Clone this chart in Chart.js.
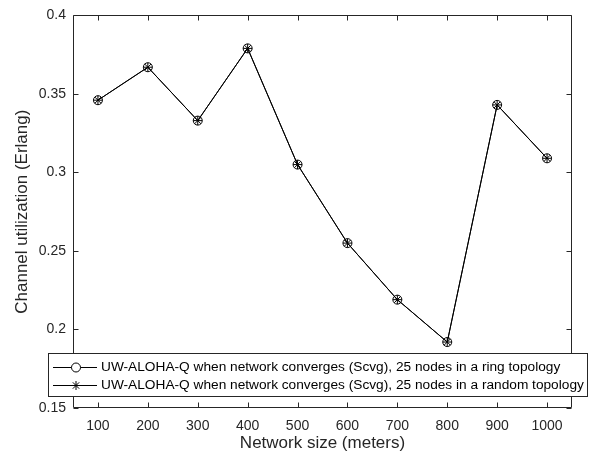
<!DOCTYPE html>
<html>
<head>
<meta charset="utf-8">
<script src="https://cdn.jsdelivr.net/npm/chart.js@4/dist/chart.umd.min.js"></script>
<style>
  html, body { margin: 0; padding: 0; background: #fff; }
  canvas { display: block; }
</style>
</head>
<body>
<canvas id="chart" width="596" height="456"></canvas>
<script>
// Network size (meters) on the x axis
const networkSizes = [100, 200, 300, 400, 500, 600, 700, 800, 900, 1000];
// Channel utilization (Erlang)
const ringUtil   = [0.346, 0.367, 0.333, 0.379, 0.305, 0.255, 0.219, 0.192, 0.343, 0.309];
const randomUtil = [0.346, 0.367, 0.333, 0.379, 0.305, 0.255, 0.219, 0.192, 0.343, 0.309];
const xTicks = [100, 200, 300, 400, 500, 600, 700, 800, 900, 1000];
const yTicks = [0.15, 0.2, 0.25, 0.3, 0.35, 0.4];
const seriesLabels = [
  'UW-ALOHA-Q when network converges (Scvg), 25 nodes in a ring topology',
  'UW-ALOHA-Q when network converges (Scvg), 25 nodes in a random topology'
];

const AXIS = '#262626';
const FONT = 'Liberation Sans, Arial, Helvetica, sans-serif';

const toPoints = vals => networkSizes.map((x, i) => ({ x: x, y: vals[i] }));

// frame + inward ticks on all four sides, like a matlab box
const boxPlugin = {
  id: 'box',
  afterDatasetsDraw(chart) {
    const { ctx, chartArea: a, scales } = chart;
    const L = Math.round(a.left) + 0.5, R = Math.round(a.right) - 0.5;
    const T = Math.round(a.top) + 0.5, B = Math.round(a.bottom) - 0.5;
    ctx.save();
    ctx.strokeStyle = AXIS;
    ctx.lineWidth = 1;
    ctx.beginPath();
    ctx.rect(L, T, R - L, B - T);
    xTicks.forEach(v => {
      const px = Math.round(scales.x.getPixelForValue(v)) + 0.5;
      ctx.moveTo(px, B); ctx.lineTo(px, B - 5);
      ctx.moveTo(px, T); ctx.lineTo(px, T + 5);
    });
    yTicks.forEach(v => {
      const py = Math.round(scales.y.getPixelForValue(v)) + 0.5;
      ctx.moveTo(L, py); ctx.lineTo(L + 5, py);
      ctx.moveTo(R, py); ctx.lineTo(R - 5, py);
    });
    ctx.stroke();
    ctx.restore();
  },
  afterDraw(chart) {
    // legend box, sitting over the bottom of the plot
    const { ctx } = chart;
    const bx = 48.5, by = 353.5, bw = 539, bh = 43;
    ctx.save();
    ctx.fillStyle = '#fff';
    ctx.fillRect(bx, by, bw, bh);
    ctx.strokeStyle = AXIS;
    ctx.lineWidth = 1;
    ctx.strokeRect(bx, by, bw, bh);
    const rows = [367, 385];
    chart.data.datasets.forEach((ds, i) => {
      const y = rows[i] + 0.5;
      ctx.strokeStyle = '#000';
      ctx.lineWidth = 1;
      ctx.beginPath();
      ctx.moveTo(53, y); ctx.lineTo(97, y);
      ctx.stroke();
      ctx.fillStyle = '#fff';
      Chart.helpers.drawPoint(ctx, {
        pointStyle: ds.pointStyle, radius: 4.5, rotation: 0, borderWidth: 1
      }, 76, y);
      ctx.fillStyle = '#000';
      ctx.font = '13.7px ' + FONT;
      ctx.textBaseline = 'middle';
      ctx.fillText(ds.label, 101, y);
    });
    ctx.restore();
  }
};

new Chart(document.getElementById('chart'), {
  type: 'line',
  data: {
    datasets: [
      {
        label: seriesLabels[0], data: toPoints(ringUtil),
        borderColor: '#000', borderWidth: 1, pointStyle: 'circle',
        pointRadius: 4.5, pointBorderColor: '#000', pointBorderWidth: 1,
        pointBackgroundColor: 'rgba(0,0,0,0)', tension: 0
      },
      {
        label: seriesLabels[1], data: toPoints(randomUtil),
        borderColor: '#000', borderWidth: 1, pointStyle: 'star',
        pointRadius: 4.5, pointBorderColor: '#000', pointBorderWidth: 1,
        pointBackgroundColor: 'rgba(0,0,0,0)', tension: 0
      }
    ]
  },
  options: {
    responsive: false, animation: false,
    layout: { padding: { top: 14, right: 24, left: 0, bottom: 0 } },
    plugins: { legend: { display: false }, tooltip: { enabled: false } },
    scales: {
      x: {
        type: 'linear', min: 50, max: 1050,
        afterBuildTicks: s => { s.ticks = xTicks.map(v => ({ value: v })); },
        afterFit: s => { s.height = 48; },
        grid: { display: false, drawTicks: false },
        border: { display: false },
        ticks: {
          color: AXIS, font: { family: FONT, size: 14 }, padding: 10,
          maxRotation: 0, autoSkip: false, callback: v => String(v)
        },
        title: {
          display: true, text: 'Network size (meters)', color: AXIS,
          font: { family: FONT, size: 17 }, padding: { top: 0, bottom: 2 }
        }
      },
      y: {
        min: 0.15, max: 0.4,
        afterBuildTicks: s => { s.ticks = yTicks.map(v => ({ value: v })); },
        afterFit: s => { s.width = 73; },
        grid: { display: false, drawTicks: false },
        border: { display: false },
        ticks: { color: AXIS, font: { family: FONT, size: 14 }, padding: 7, callback: v => String(v) },
        title: {
          display: true, text: 'Channel utilization (Erlang)', color: AXIS,
          font: { family: FONT, size: 17 }, padding: { top: 12, bottom: 0 }
        }
      }
    }
  },
  plugins: [boxPlugin]
});
</script>
</body>
</html>
